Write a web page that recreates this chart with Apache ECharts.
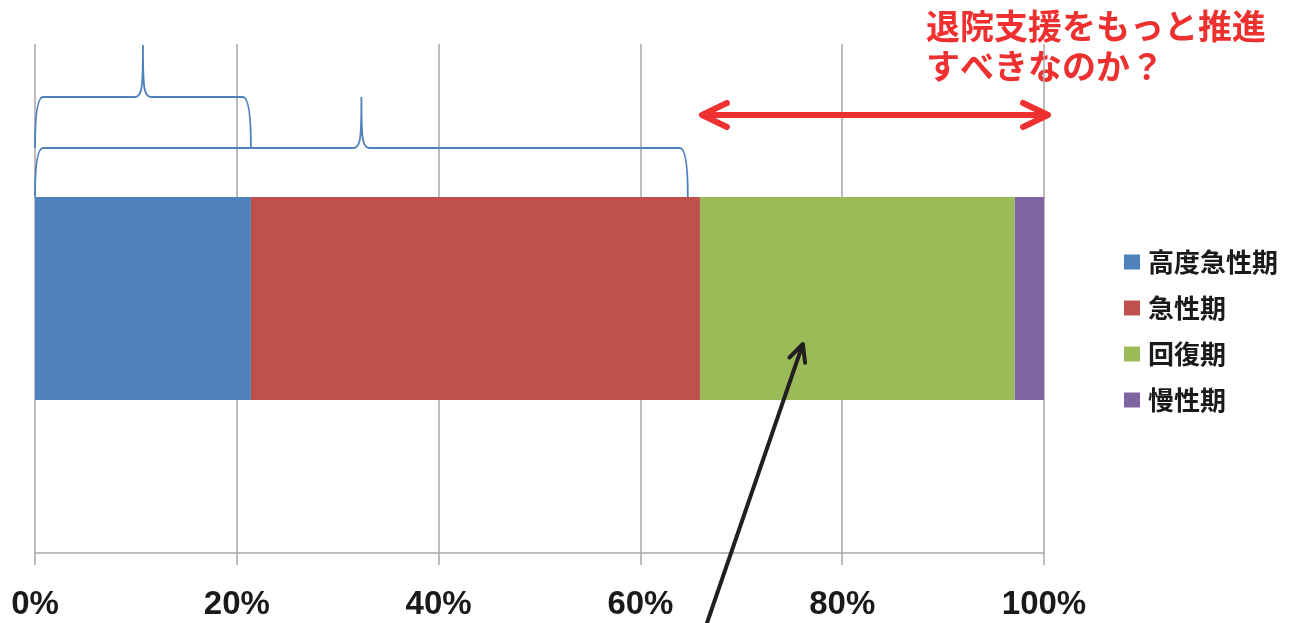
<!DOCTYPE html>
<html>
<head>
<meta charset="utf-8">
<script src="https://cdn.jsdelivr.net/npm/echarts@6/dist/echarts.min.js"></script>
<style>
  html, body { margin: 0; padding: 0; background: #fff; }
  #chart { width: 1303px; height: 623px; }
</style>
</head>
<body>
<div id="chart"></div>
<script>
// Share of beds by function (percent of total)
const categories = [''];
const seriesNames = ['高度急性期', '急性期', '回復期', '慢性期'];
const shares = [21.4, 44.5, 31.2, 2.9];
const seriesColors = ['#4F81BD', '#C0504D', '#9BBB59', '#8064A2'];
const xTicks = [0, 20, 40, 60, 80, 100];

// Annotation spans on the percent axis
const braceSpans = [[0, 21.4], [0, 64.7]];
const questionSpan = [66.1, 100.4];
const pointerSpan = [66.6, 76.1];
const questionText = '退院支援をもっと推進\nすべきなのか？';

const chart = echarts.init(document.getElementById('chart'), null, { renderer: 'canvas' });

const grid = { left: 35, right: 259, top: 44, bottom: 70 };

// Pixel offsets of annotation rows, measured from the grid top
const braceRows = [
  { end: 104, flat: 53, peak: 1 },
  { end: 153, flat: 104, peak: 53 }
];
const questionRow = 71;
const pointerTipRow = 300;

function braceItem(params, api) {
  const top = params.coordSys.y;
  const row = braceRows[params.dataIndex];
  const L = api.coord([api.value(0), 0])[0];
  const R = api.coord([api.value(1), 0])[0];
  const M = (L + R) / 2, r = 8;
  const yE = top + row.end, yF = top + row.flat, yP = top + row.peak;
  const d = `M${L},${yE} Q${L},${yF} ${L + r},${yF} L${M - r},${yF} ` +
            `C${M - 1},${yF} ${M},${yF - 8} ${M},${yP} ` +
            `C${M},${yF - 8} ${M + 1},${yF} ${M + r},${yF} L${R - r},${yF} ` +
            `Q${R},${yF} ${R},${yE}`;
  return {
    type: 'path',
    shape: { pathData: d },
    style: { fill: 'none', stroke: '#4F81BD', lineWidth: 1.8 }
  };
}

function questionArrow(params, api) {
  const top = params.coordSys.y;
  const x1 = api.coord([api.value(0), 0])[0];
  const x2 = api.coord([api.value(1), 0])[0];
  const y = top + questionRow;
  const hl = 25, hw = 12;
  const st = { fill: 'none', stroke: '#EE3030', lineWidth: 6, lineCap: 'round', lineJoin: 'round' };
  return {
    type: 'group',
    children: [
      { type: 'line', shape: { x1: x1 + 2, y1: y, x2: x2 - 2, y2: y }, style: st },
      { type: 'polyline', shape: { points: [[x1 + hl, y - hw], [x1, y], [x1 + hl, y + hw]] }, style: st },
      { type: 'polyline', shape: { points: [[x2 - hl, y - hw], [x2, y], [x2 - hl, y + hw]] }, style: st }
    ]
  };
}

function pointerArrow(params, api) {
  const top = params.coordSys.y;
  const xt = api.coord([api.value(0), 0])[0];
  const xh = api.coord([api.value(1), 0])[0];
  const yt = 623, yh = top + pointerTipRow;
  const dx = xh - xt, dy = yh - yt, len = Math.hypot(dx, dy);
  const ux = dx / len, uy = dy / len;
  const al = 19, ang = 0.45;
  const c = Math.cos(ang), s = Math.sin(ang);
  const a1 = [xh - al * (ux * c - uy * s), yh - al * (ux * s + uy * c)];
  const a2 = [xh - al * (ux * c + uy * s), yh - al * (-ux * s + uy * c)];
  const st = { fill: 'none', stroke: '#231F20', lineWidth: 4, lineCap: 'round', lineJoin: 'round' };
  return {
    type: 'group',
    children: [
      { type: 'line', shape: { x1: xt, y1: yt, x2: xh - ux * 2, y2: yh - uy * 2 }, style: st },
      { type: 'polyline', shape: { points: [a1, [xh, yh], a2] }, style: st }
    ]
  };
}

const barSeries = seriesNames.map((name, i) => ({
  name: name,
  type: 'bar',
  stack: 'total',
  barWidth: 203,
  itemStyle: { color: seriesColors[i] },
  data: [shares[i]],
  silent: true
}));

chart.setOption({
  animation: false,
  backgroundColor: '#ffffff',
  grid: grid,
  legend: {
    data: seriesNames,
    orient: 'vertical',
    left: 1124,
    top: 247,
    padding: 0,
    icon: 'rect',
    itemWidth: 16,
    itemHeight: 15,
    itemGap: 16,
    selectedMode: false,
    textStyle: {
      fontFamily: '"Noto Sans CJK JP", sans-serif',
      fontSize: 26,
      fontWeight: 'bold',
      color: '#1a1a1a',
      lineHeight: 30,
      padding: [0, 0, 0, 3]
    }
  },
  xAxis: {
    type: 'value',
    min: 0,
    max: 100,
    interval: 20,
    axisLine: { show: true, lineStyle: { color: '#A6A6A6', width: 1.5 } },
    axisTick: { show: true, length: 12, lineStyle: { color: '#A6A6A6', width: 1.5 } },
    splitLine: { show: true, lineStyle: { color: '#A6A6A6', width: 1.5 } },
    axisLabel: {
      margin: 35,
      formatter: v => xTicks.includes(v) ? v + '%' : '',
      fontFamily: '"Liberation Sans", Arial, sans-serif',
      fontSize: 33,
      fontWeight: 'bold',
      color: '#1a1a1a',
      lineHeight: 33
    }
  },
  yAxis: {
    type: 'category',
    data: categories,
    axisLine: { show: false },
    axisTick: { show: false },
    axisLabel: { show: false },
    splitLine: { show: false }
  },
  series: barSeries.concat([
    {
      type: 'custom',
      name: 'braces',
      renderItem: braceItem,
      data: braceSpans,
      clip: false,
      silent: true,
      z: 5
    },
    {
      type: 'custom',
      name: 'question',
      renderItem: questionArrow,
      data: [questionSpan],
      clip: false,
      silent: true,
      z: 5
    },
    {
      type: 'custom',
      name: 'pointer',
      renderItem: pointerArrow,
      data: [pointerSpan],
      clip: false,
      silent: true,
      z: 6
    }
  ]),
  graphic: [
    {
      type: 'text',
      left: 926,
      top: 6,
      silent: true,
      style: {
        text: questionText,
        fontFamily: '"Noto Sans CJK JP", sans-serif',
        fontSize: 34,
        fontWeight: 'bold',
        lineHeight: 40,
        fill: '#EE3030'
      }
    }
  ]
});
</script>
</body>
</html>
